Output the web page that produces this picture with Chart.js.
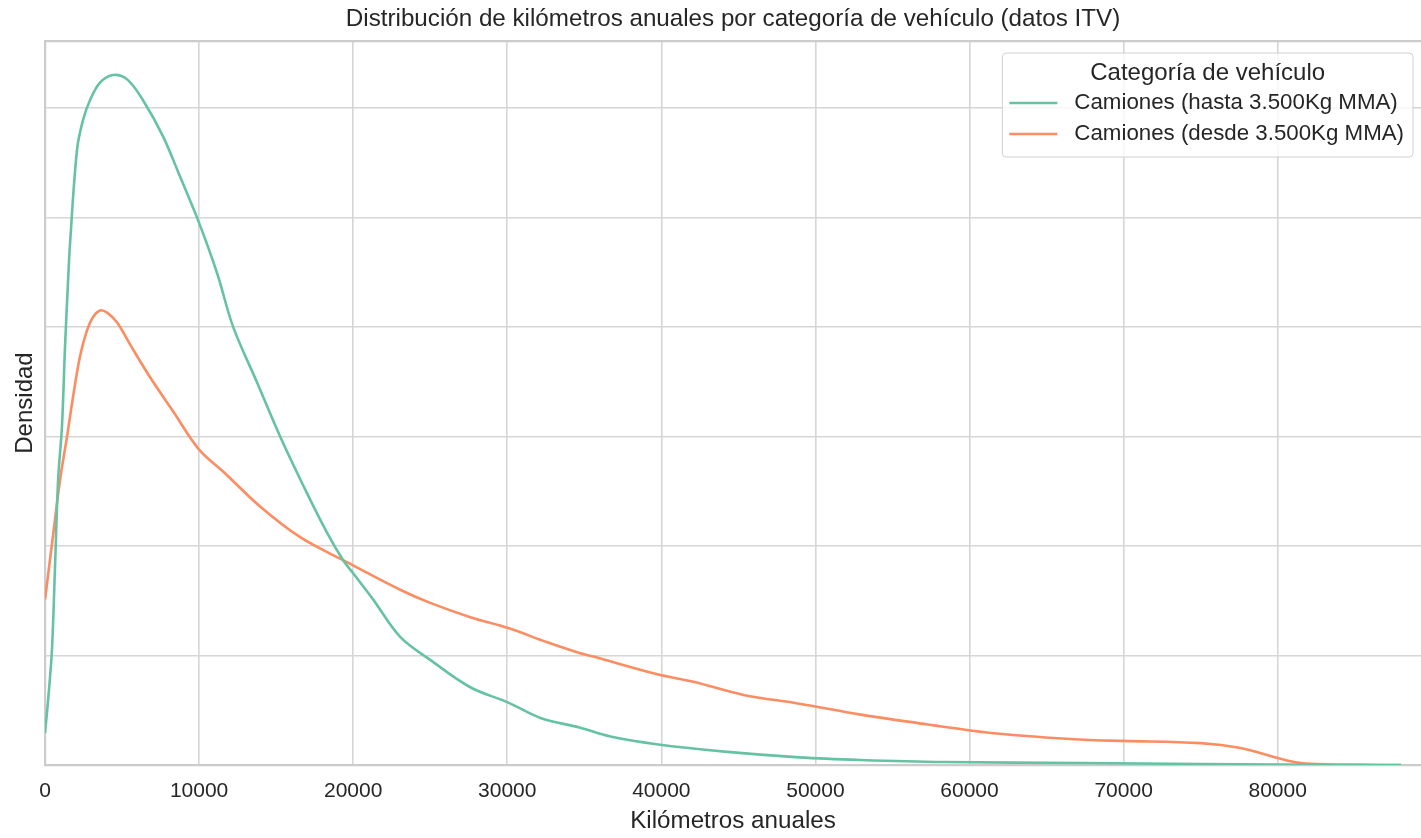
<!DOCTYPE html>
<html lang="es">
<head>
<meta charset="utf-8">
<title>Distribución de kilómetros anuales</title>
<script src="https://cdn.jsdelivr.net/npm/chart.js@4.4.1/dist/chart.umd.min.js"></script>
<style>
  html, body { margin: 0; padding: 0; background: #fff; }
  canvas { display: block; }
</style>
</head>
<body>
<canvas id="kdeChart" width="1421" height="838"></canvas>
<script>
// valores (densidad en unidades de la rejilla, sin etiquetas en el eje y)
const seriesLabels = ['Camiones (hasta 3.500Kg MMA)', 'Camiones (desde 3.500Kg MMA)'];
const seriesColors = ['#66c2a5', '#fc8d62'];

const kmLigeros = [0, 200, 450, 650, 850, 1100, 1300, 1500, 1620, 2080, 2470, 2920, 3570, 4420, 5330, 6360, 7660, 8770,
  10000, 11170, 12210, 13770, 15260, 17010, 18310, 19350, 20000, 21300, 23050, 25000, 27600, 30070, 32150, 34740,
  36690, 39680, 44290, 48960, 52930, 58320, 67410, 75000, 80200, 85000, 88000];
const densLigeros = [0.29, 0.59, 1.05, 1.81, 2.60, 3.09, 3.82, 4.43, 4.75, 5.62, 5.89, 6.07, 6.23, 6.30, 6.26, 6.07, 5.74, 5.37,
  4.95, 4.49, 4.00, 3.49, 3.00, 2.48, 2.12, 1.87, 1.75, 1.51, 1.17, 0.96, 0.71, 0.57, 0.43, 0.34,
  0.26, 0.19, 0.12, 0.07, 0.046, 0.027, 0.018, 0.009, 0.003, 0.001, 0];

const kmPesados = [0, 490, 975, 1430, 1820, 2270, 2730, 3120, 3570, 4030, 4680, 5520, 6820, 8310, 10000, 11560, 13960,
  16560, 19350, 23050, 25000, 27600, 30070, 32600, 34740, 35590, 39680, 42080, 45330, 48960, 52930, 57280,
  58320, 61560, 67410, 70000, 75000, 77600, 80000, 81500, 83600, 85500, 88000];
const densPesados = [1.51, 2.06, 2.60, 3.00, 3.36, 3.73, 3.97, 4.09, 4.15, 4.13, 4.04, 3.84, 3.54, 3.23, 2.88, 2.68, 2.36,
  2.08, 1.87, 1.60, 1.48, 1.35, 1.25, 1.12, 1.02, 0.99, 0.83, 0.76, 0.64, 0.56, 0.46, 0.37,
  0.35, 0.29, 0.23, 0.22, 0.20, 0.155, 0.064, 0.018, 0.005, 0.001, 0];

const xTicks = [0, 10000, 20000, 30000, 40000, 50000, 60000, 70000, 80000];
const xMax = 89300;
const yMax = 6.61;

const FONT = '"Liberation Sans", Arial, sans-serif';
const TEXT = '#262626';

function toPoints(xs, ys) {
  return xs.map((x, i) => ({ x: x, y: ys[i] }));
}

// borde superior (estilo whitegrid)
const topSpine = {
  id: 'topSpine',
  beforeDatasetsDraw(chart) {
    const { ctx, chartArea } = chart;
    ctx.save();
    ctx.strokeStyle = '#cccccc';
    ctx.lineWidth = 2.2;
    ctx.beginPath();
    ctx.moveTo(chartArea.left, chartArea.top);
    ctx.lineTo(chartArea.right, chartArea.top);
    ctx.stroke();
    ctx.restore();
  }
};

// leyenda dentro del área del gráfico, arriba a la derecha
const innerLegend = {
  id: 'innerLegend',
  afterDraw(chart) {
    const { ctx, chartArea } = chart;
    const title = 'Categoría de vehículo';
    ctx.save();
    ctx.font = '22.3px ' + FONT;
    let w = 0;
    chart.data.datasets.forEach(ds => { w = Math.max(w, ctx.measureText(ds.label).width); });
    const boxW = w + 72 + 9;
    const boxH = 104;
    const right = chartArea.right - 8;
    const left = right - boxW;
    const top = chartArea.top + 12;

    ctx.beginPath();
    ctx.roundRect(left, top, boxW, boxH, 4);
    ctx.fillStyle = 'rgba(255,255,255,0.8)';
    ctx.fill();
    ctx.strokeStyle = '#d0d0d0';
    ctx.lineWidth = 1;
    ctx.stroke();

    ctx.fillStyle = TEXT;
    ctx.textBaseline = 'middle';
    ctx.textAlign = 'center';
    ctx.font = '24px ' + FONT;
    ctx.fillText(title, left + boxW / 2, top + 20);

    ctx.textAlign = 'left';
    ctx.font = '22.3px ' + FONT;
    chart.data.datasets.forEach((ds, i) => {
      const y = top + 50 + i * 31;
      ctx.strokeStyle = ds.borderColor;
      ctx.lineWidth = 2.6;
      ctx.beginPath();
      ctx.moveTo(left + 7, y);
      ctx.lineTo(left + 55, y);
      ctx.stroke();
      ctx.fillStyle = TEXT;
      ctx.fillText(ds.label, left + 72, y);
    });
    ctx.restore();
  }
};

new Chart(document.getElementById('kdeChart').getContext('2d'), {
  type: 'line',
  data: {
    datasets: [
      {
        label: seriesLabels[0],
        data: toPoints(kmLigeros, densLigeros),
        borderColor: seriesColors[0],
        backgroundColor: seriesColors[0],
        borderWidth: 2.6,
        pointRadius: 0,
        tension: 0.35,
        fill: false
      },
      {
        label: seriesLabels[1],
        data: toPoints(kmPesados, densPesados),
        borderColor: seriesColors[1],
        backgroundColor: seriesColors[1],
        borderWidth: 2.6,
        pointRadius: 0,
        tension: 0.35,
        fill: false
      }
    ]
  },
  options: {
    responsive: false,
    animation: false,
    devicePixelRatio: 1,
    layout: { padding: 0 },
    plugins: {
      legend: { display: false },
      tooltip: { enabled: false },
      title: {
        display: true,
        fullSize: false,
        text: 'Distribución de kilómetros anuales por categoría de vehículo (datos ITV)',
        color: TEXT,
        font: { family: FONT, size: 24.2, weight: 'normal' },
        padding: { top: 5, bottom: 7 }
      }
    },
    scales: {
      x: {
        type: 'linear',
        min: 0,
        max: xMax,
        afterBuildTicks(scale) {
          scale.ticks = xTicks.map(v => ({ value: v }));
        },
        afterFit(scale) { scale.height = 73; },
        ticks: {
          color: TEXT,
          font: { family: FONT, size: 21 },
          padding: 14,
          maxRotation: 0,
          callback: v => String(v)
        },
        grid: { color: '#d6d6d6', lineWidth: 1.6, drawTicks: false },
        border: { color: '#cccccc', width: 2.2 },
        title: {
          display: true,
          text: 'Kilómetros anuales',
          color: TEXT,
          font: { family: FONT, size: 24.2 },
          padding: { top: 0, bottom: 2 }
        }
      },
      y: {
        type: 'linear',
        min: 0,
        max: yMax,
        afterBuildTicks(scale) {
          const t = [];
          for (let v = 0; v <= yMax; v += 1) t.push({ value: v });
          scale.ticks = t;
        },
        afterFit(scale) { scale.width = 45; },
        ticks: { display: false },
        grid: { color: '#d6d6d6', lineWidth: 1.6, drawTicks: false },
        border: { color: '#cccccc', width: 2.2 },
        title: {
          display: true,
          text: 'Densidad',
          color: TEXT,
          font: { family: FONT, size: 24 },
          padding: { top: 11, bottom: 0 }
        }
      }
    }
  },
  plugins: [topSpine, innerLegend]
});
</script>
</body>
</html>
